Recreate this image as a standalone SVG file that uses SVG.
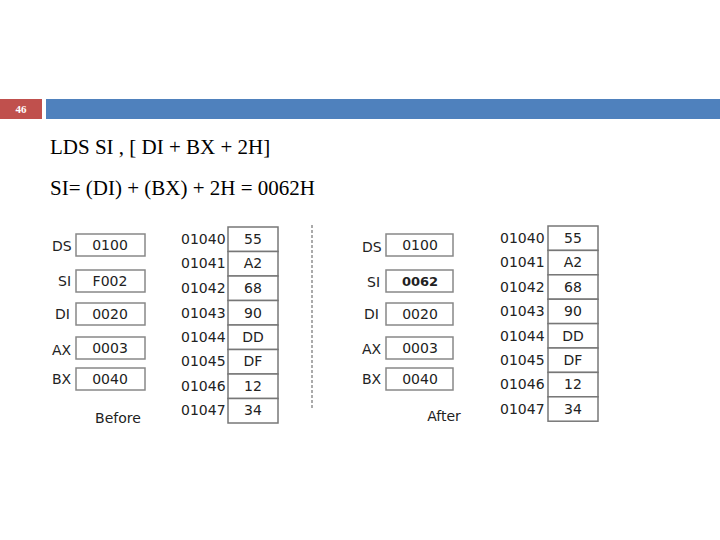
<svg xmlns="http://www.w3.org/2000/svg" width="720" height="540" viewBox="0 0 720 540">
<style>
.t{font-family:"Liberation Serif",serif;fill:#000}
.s{font-family:"DejaVu Sans",sans-serif;font-size:14px;fill:#222}
.b{fill:#fff;stroke:#888;stroke-width:1.5}
.c{text-anchor:middle}
</style>
<rect width="720" height="540" fill="#fff"/>
<rect x="0" y="99" width="42" height="20" fill="#c0504d"/>
<text x="21" y="113" class="t c" font-size="11" font-weight="bold" fill="#fff" style="fill:#fff">46</text>
<rect x="46" y="99" width="674" height="20" fill="#4f81bd"/>
<text x="50" y="154" class="t" font-size="21">LDS SI , [ DI + BX + 2H]</text>
<text x="50" y="195" class="t" font-size="21">SI= (DI) + (BX) + 2H = 0062H</text>
<g id="before">
<g class="s">
<text x="52" y="251">DS</text><text x="58" y="286">SI</text><text x="55" y="319">DI</text><text x="52" y="355">AX</text><text x="52" y="384">BX</text>
</g>
<rect class="b" x="76" y="234" width="69" height="22"/><rect class="b" x="76" y="270" width="69" height="22"/><rect class="b" x="76" y="303" width="69" height="22"/><rect class="b" x="76" y="337" width="69" height="22"/><rect class="b" x="76" y="368" width="69" height="22"/>
<g class="s c"><text x="110" y="250">0100</text><text x="110" y="286">F002</text><text x="110" y="319">0020</text><text x="110" y="353">0003</text><text x="110" y="384">0040</text></g>
<text x="118" y="423" class="s c" font-size="17">Before</text>
<g class="s"><text x="181" y="244">01040</text><text x="181" y="268">01041</text><text x="181" y="293">01042</text><text x="181" y="318">01043</text><text x="181" y="342">01044</text><text x="181" y="366">01045</text><text x="181" y="391">01046</text><text x="181" y="415">01047</text></g>
<g fill="#fff" stroke="#777" stroke-width="1.5"><rect x="228" y="227" width="50" height="24.5"/><rect x="228" y="251.5" width="50" height="24.5"/><rect x="228" y="276" width="50" height="24.5"/><rect x="228" y="300.5" width="50" height="24.5"/><rect x="228" y="325" width="50" height="24.5"/><rect x="228" y="349.5" width="50" height="24.5"/><rect x="228" y="374" width="50" height="24.5"/><rect x="228" y="398.5" width="50" height="24.5"/></g>
<g class="s c"><text x="253" y="244">55</text><text x="253" y="268">A2</text><text x="253" y="293">68</text><text x="253" y="318">90</text><text x="253" y="342">DD</text><text x="253" y="366">DF</text><text x="253" y="391">12</text><text x="253" y="415">34</text></g>
</g>
<line x1="312" y1="225" x2="312" y2="410" stroke="#aaa" stroke-width="2" stroke-dasharray="3,2"/>
<g id="after">
<g class="s">
<text x="362" y="252">DS</text><text x="367" y="287">SI</text><text x="364" y="319">DI</text><text x="362" y="354">AX</text><text x="362" y="384">BX</text>
</g>
<rect class="b" x="386" y="234" width="67" height="22"/><rect class="b" x="386" y="270" width="67" height="22"/><rect class="b" x="386" y="303" width="67" height="22"/><rect class="b" x="386" y="337" width="67" height="22"/><rect class="b" x="386" y="368" width="67" height="22"/>
<g class="s c"><text x="420" y="250">0100</text><text x="420" y="286" font-weight="bold" font-size="13">0062</text><text x="420" y="319">0020</text><text x="420" y="353">0003</text><text x="420" y="384">0040</text></g>
<text x="444" y="421" class="s c" font-size="17">After</text>
<g class="s"><text x="500" y="243">01040</text><text x="500" y="267">01041</text><text x="500" y="292">01042</text><text x="500" y="316">01043</text><text x="500" y="341">01044</text><text x="500" y="365">01045</text><text x="500" y="389">01046</text><text x="500" y="414">01047</text></g>
<g fill="#fff" stroke="#777" stroke-width="1.5"><rect x="548" y="226" width="50" height="24.4"/><rect x="548" y="250.4" width="50" height="24.4"/><rect x="548" y="274.8" width="50" height="24.4"/><rect x="548" y="299.2" width="50" height="24.4"/><rect x="548" y="323.6" width="50" height="24.4"/><rect x="548" y="348" width="50" height="24.4"/><rect x="548" y="372.4" width="50" height="24.4"/><rect x="548" y="396.8" width="50" height="24.4"/></g>
<g class="s c"><text x="573" y="243">55</text><text x="573" y="267">A2</text><text x="573" y="292">68</text><text x="573" y="316">90</text><text x="573" y="341">DD</text><text x="573" y="365">DF</text><text x="573" y="389">12</text><text x="573" y="414">34</text></g>
</g>
</svg>
